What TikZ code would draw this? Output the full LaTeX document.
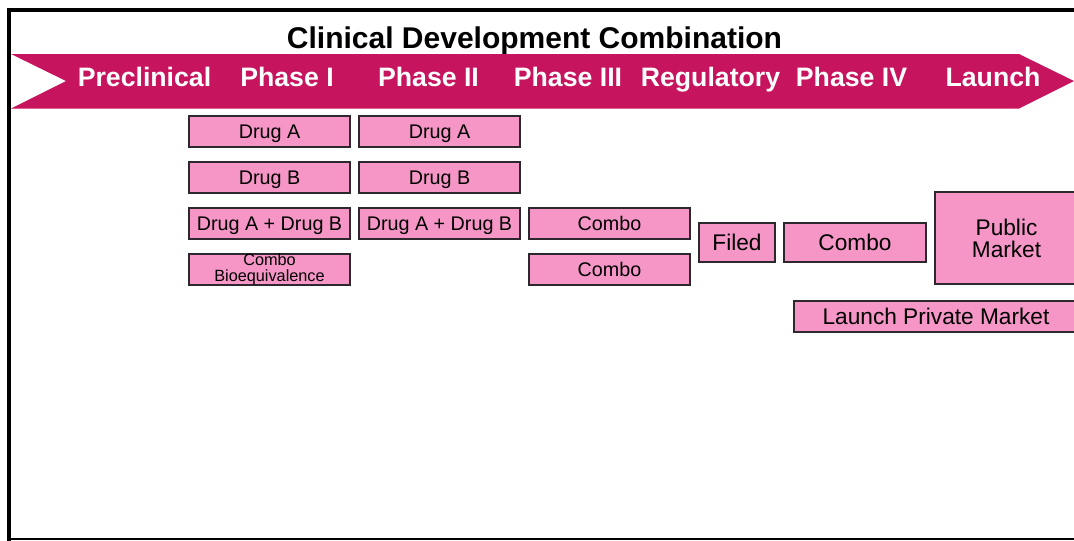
\documentclass[tikz,border=0pt]{standalone}
\usepackage{fontspec}
\setmainfont{Liberation Sans}
\definecolor{bannerred}{RGB}{199,20,94}
\definecolor{boxpink}{RGB}{245,150,198}
\definecolor{boxline}{RGB}{45,40,45}
\begin{document}
\begin{tikzpicture}[x=0.75pt,y=-0.75pt,
  bw/.style={minimum width=#1*0.75pt},
  bh/.style={minimum height=#1*0.75pt},
  capcentre/.style={text height=#1,text depth=0pt},
  stagebox/.style={draw=boxline,line width=1pt,fill=boxpink,rectangle,inner sep=0pt,
    align=center,text=black},
  smalltext/.style={font=\fontsize{14.8}{16}\selectfont,capcentre=10.6pt},
  tinytext/.style={font=\fontsize{12.2}{12}\selectfont},
  bigtext/.style={font=\fontsize{17}{16.5}\selectfont},
  bigline/.style={bigtext,capcentre=12.2pt},
  phase/.style={text=white,font=\bfseries\fontsize{20}{24}\selectfont,inner sep=0pt,capcentre=14.3pt},
  title/.style={text=black,font=\bfseries\fontsize{22.5}{26}\selectfont,inner sep=0pt,capcentre=16.1pt}]
\useasboundingbox (0,0) rectangle (1074,540);
\clip (0,0) rectangle (1074,540);

% frame
\draw[line width=3pt] (9,545) -- (9,9.5) -- (1080,9.5);
\draw[line width=1pt] (9,539) -- (1080,539);

% title
\node[title] (title) at (534.5,37.5) {Clinical Development Combination};

% stage banner
\fill[bannerred] (11,54) -- (1019,54) -- (1074,81) -- (1019,108.5) -- (11,108.5) -- (66,81) -- cycle;
\node[phase] (pre)  at (144.5,76.7) {Preclinical};
\node[phase] (p1)   at (287,76.7)   {Phase I};
\node[phase] (p2)   at (428.5,76.7) {Phase II};
\node[phase] (p3)   at (568,76.7)   {Phase III};
\node[phase] (reg)  at (710.5,76.7) {Regulatory};
\node[phase] (p4)   at (851.5,76.7) {Phase IV};
\node[phase] (lau)  at (993,76.7)   {Launch};

% Phase I column
\node[stagebox,smalltext,bw=161,bh=31] (aA) at (269.5,131.5) {Drug A};
\node[stagebox,smalltext,bw=161,bh=31] (aB) at (269.5,177.5) {Drug B};
\node[stagebox,smalltext,bw=161,bh=31] (aAB) at (269.5,223.5) {Drug A + Drug B};
\node[stagebox,tinytext,bw=161,bh=31] (aBE) at (269.5,269.5) {Combo\\Bioequivalence};

% Phase II column
\node[stagebox,smalltext,bw=161,bh=31] (bA) at (439.5,131.5) {Drug A};
\node[stagebox,smalltext,bw=161,bh=31] (bB) at (439.5,177.5) {Drug B};
\node[stagebox,smalltext,bw=161,bh=31] (bAB) at (439.5,223.5) {Drug A + Drug B};

% Phase III column
\node[stagebox,smalltext,bw=161,bh=31] (c1) at (609.5,223.5) {Combo};
\node[stagebox,smalltext,bw=161,bh=31] (c2) at (609.5,269.5) {Combo};

% Regulatory, Phase IV, Launch
\node[stagebox,bigline,bw=76,bh=39] (filed) at (737,242.5) {Filed};
\node[stagebox,bigline,bw=142,bh=39] (c4) at (855,242.5) {Combo};
\node[stagebox,bigtext,bw=143,bh=92] (pub) at (1006.5,238) {Public\\Market};
\node[stagebox,bigline,bw=284,bh=31] (priv) at (936,316.5) {Launch Private Market};
\end{tikzpicture}
\end{document}
